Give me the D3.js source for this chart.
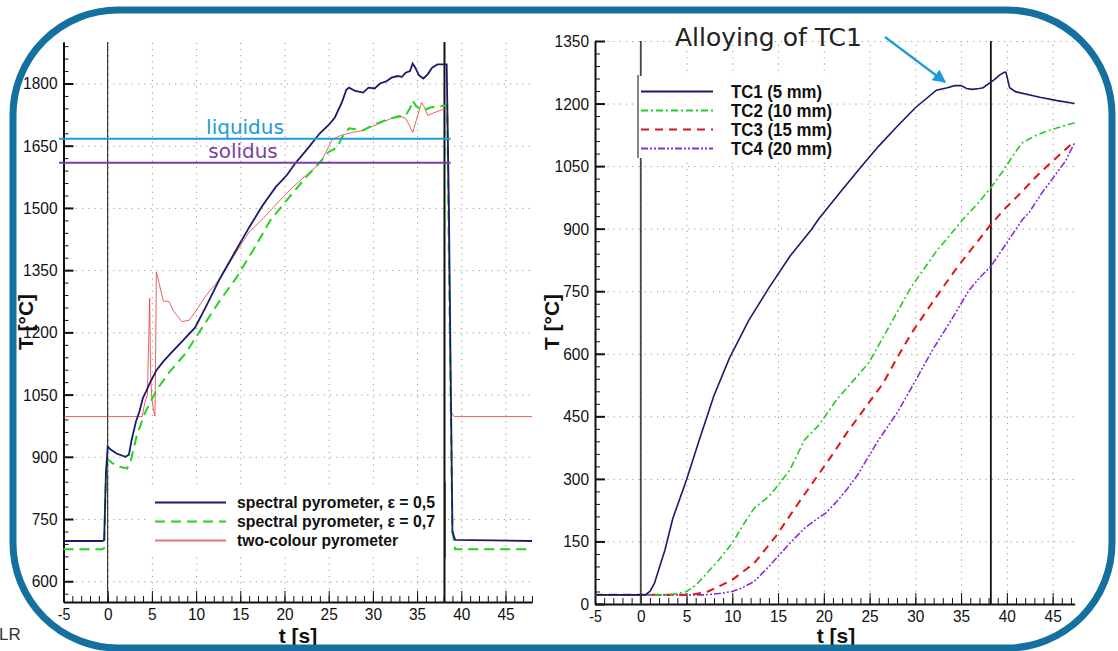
<!DOCTYPE html>
<html>
<head>
<meta charset="utf-8">
<script src="https://cdn.jsdelivr.net/npm/d3@7"></script>
<style>
  body { margin: 0; background: #fff; }
  svg text { font-family: "Liberation Sans", Arial, sans-serif; }
  .tick text { font-size: 17px; fill: #111; }
  .axis path, .axis line { stroke: #111; }
  .grid line { stroke: #999; stroke-dasharray: 1.2,5; }
  .grid path { display: none; }
</style>
</head>
<body>
<svg id="chart" width="1118" height="651"></svg>
<script>
// ---- left panel: pyrometer readings [t (s), T (°C)]
const pyroE05 = [[-5,697],[-0.6,697],[-0.4,700],[-0.2,860],[0,925],[0.3,918],[1,908],[2,900],[2.4,905],[2.7,940],[3.2,985],[3.6,1010],[4,1043],[4.4,1060],[4.75,1077],[5.5,1108],[6.3,1130],[7.1,1149],[8.5,1180],[9.9,1212],[11.3,1270],[12.7,1330],[14.3,1390],[16,1453],[17.5,1505],[19,1550],[20.3,1580],[21.2,1607],[22.5,1640],[24,1680],[25,1700],[25.7,1718],[26.5,1755],[27,1785],[27.3,1790],[28,1782],[28.9,1778],[29.5,1790],[30.2,1788],[30.8,1800],[31.5,1805],[32.1,1814],[32.8,1818],[33.3,1816],[33.7,1826],[34.2,1830],[34.5,1848],[34.8,1838],[35.2,1820],[35.7,1812],[36.2,1822],[36.7,1838],[37.3,1846],[38.35,1846],[38.6,1500],[38.8,1100],[39,720],[39.3,700],[48,697]];
const pyroE07 = [[-5,677],[-0.6,677],[-0.4,680],[-0.2,850],[0,894],[0.5,885],[1.3,876],[2.2,872],[2.6,890],[3.3,952],[4.3,1010],[5.5,1060],[7,1105],[8.8,1149],[10.7,1212],[12.7,1277],[14.5,1330],[16.5,1400],[18.4,1470],[20.5,1525],[22.4,1573],[24,1610],[25,1635],[26,1646],[26.5,1670],[27.3,1692],[28.9,1687],[30,1700],[31,1708],[32,1716],[33.7,1723],[34.2,1740],[34.5,1759],[34.9,1745],[35.7,1735],[36.5,1742],[38.4,1747],[38.7,1200],[39,720],[39.3,677],[48,677]];
const pyroTwoColour = [[-5,997],[3.9,997],[4.2,1030],[4.5,1050],[4.6,1150],[4.75,1282],[4.85,1100],[5.0,1040],[5.2,1010],[5.35,998],[5.45,1200],[5.5,1345],[5.8,1320],[6.3,1275],[6.9,1275],[7.5,1250],[8.4,1226],[9.2,1229],[9.9,1249],[11,1285],[12.7,1330],[14.3,1385],[16,1442],[17.6,1475],[19.2,1512],[20.8,1547],[22.4,1578],[24,1607],[24.7,1635],[25.4,1665],[26.4,1675],[27.7,1682],[28.9,1687],[30.9,1705],[32.9,1723],[33.7,1716],[34.1,1700],[34.5,1682],[34.9,1710],[35.5,1754],[35.9,1740],[36.2,1723],[37.2,1732],[38.4,1740],[38.6,1400],[38.8,1010],[39.2,997],[48,997]];
const liquidusT = 1667;
const solidusT = 1609;
const leftMarkers = [0, 38.1];
const leftLegend = ["spectral pyrometer, \u03b5 = 0,5", "spectral pyrometer, \u03b5 = 0,7", "two-colour pyrometer"];

// ---- right panel: thermocouples [t (s), T (°C)]
const tc1 = [[-5,22],[0.5,22],[1,30],[1.5,50],[2,85],[2.65,130],[3.5,205],[5,298],[6.4,394],[8,500],[9.7,590],[11.8,680],[14,758],[16.3,834],[18.65,898],[19.4,922],[21.7,985],[24.1,1049],[26,1098],[28,1145],[30,1190],[32.3,1232],[33.5,1238],[34.3,1243],[35,1243],[35.6,1236],[36.2,1234],[37,1236],[37.4,1238],[38.6,1257],[39.2,1268],[39.7,1275],[39.9,1275],[40.3,1238],[41,1228],[43.6,1215],[45.5,1207],[47.4,1200]];
const tc2 = [[-5,22],[3,22],[4,25],[5,30],[6,45],[6.9,66],[8.5,105],[10,146],[11.2,190],[12.4,230],[14,258],[15.2,290],[16.3,322],[17.9,394],[19.5,430],[21.4,490],[23.2,535],[24.9,578],[27,660],[29.6,762],[31,805],[32.3,846],[33.8,885],[35.2,922],[36.8,960],[38.25,998],[39.7,1042],[40.8,1080],[41.7,1106],[43,1122],[44.4,1134],[46,1145],[47.4,1154]];
const tc3 = [[-5,22],[5,22],[6,24],[7.35,30],[8.5,42],[10,58],[12.4,98],[14.75,162],[17.1,238],[19.4,310],[21,360],[22.5,410],[24.5,470],[26.5,530],[28,590],[29.6,650],[31.3,705],[33.1,762],[34.5,805],[35.8,842],[37,875],[38.25,910],[39.7,946],[41.7,990],[43.6,1034],[45.5,1072],[47.4,1110]];
const tc4 = [[-5,22],[7,22],[8.5,25],[10,30],[11,38],[12.4,54],[14,90],[16.3,146],[17.9,182],[19,200],[20.2,218],[21.3,243],[22.5,274],[23.7,310],[24.9,354],[26,394],[28,458],[30,535],[31.9,610],[33.9,680],[35.8,750],[37,782],[38.25,810],[39.5,850],[41.7,922],[42.4,938],[43.8,985],[45.2,1026],[46.4,1062],[47.4,1106]];
const rightMarkers = [0, 38.25];
const rightLegend = ["TC1 (5 mm)", "TC2 (10 mm)", "TC3 (15 mm)", "TC4 (20 mm)"];

const xTicks = [-5, 0, 5, 10, 15, 20, 25, 30, 35, 40, 45];

const svg = d3.select("#chart");
svg.append("rect").attr("width", 1118).attr("height", 651).attr("fill", "#fff");

// squeeze tick labels a little, the original font is a narrow one
function narrowLabels(a) {
    a.selectAll(".tick text")
        .attr("textLength", function () {
            let s = this.textContent;
            return s.replace("-", "").length * 8.6 + (s.indexOf("-") >= 0 ? 4 : 0);
        })
        .attr("lengthAdjust", "spacingAndGlyphs");
}

// draws grid, inward ticks and labels for one panel
function drawAxes(g, x, y, yTicks, yMinor) {
    let [x0, x1] = x.range();
    let [y0, y1] = y.range();

    g.append("g").attr("class", "grid")
        .attr("transform", "translate(0," + y0 + ")")
        .call(d3.axisBottom(x).tickValues(xTicks.filter(d => d > -5)).tickSize(-(y0 - y1)).tickFormat(""));
    g.append("g").attr("class", "grid")
        .attr("transform", "translate(" + x0 + ",0)")
        .call(d3.axisLeft(y).tickValues(yTicks).tickSize(-(x1 - x0)).tickFormat(""));

    let xMinor = d3.range(Math.ceil(x.domain()[0]), x.domain()[1] + 0.01, 1);
    g.append("g").attr("class", "axis")
        .attr("transform", "translate(0," + y0 + ")")
        .call(d3.axisBottom(x).tickValues(xMinor).tickSize(-6).tickSizeOuter(0).tickFormat(""));
    g.append("g").attr("class", "axis")
        .attr("transform", "translate(0," + y0 + ")")
        .call(d3.axisBottom(x).tickValues(xTicks).tickSize(-11).tickSizeOuter(0).tickPadding(6).tickFormat(d => String(d)))
        .call(a => a.select(".domain").attr("stroke-width", 2))
        .call(narrowLabels);

    g.append("g").attr("class", "axis")
        .attr("transform", "translate(" + x0 + ",0)")
        .call(d3.axisLeft(y).tickValues(yMinor).tickSize(-5).tickSizeOuter(0).tickFormat(""));
    g.append("g").attr("class", "axis")
        .attr("transform", "translate(" + x0 + ",0)")
        .call(d3.axisLeft(y).tickValues(yTicks).tickSize(-10).tickSizeOuter(0).tickPadding(6).tickFormat(d => String(d)))
        .call(a => a.select(".domain").attr("stroke-width", 2))
        .call(a => a.selectAll(".tick line").attr("stroke-width", 2))
        .call(narrowLabels);
}

function axisTitles(g, tx, ty, yCenter) {
    g.append("text").attr("x", tx).attr("y", 643).attr("text-anchor", "middle")
        .attr("font-size", 21).attr("font-weight", "bold").attr("fill", "#111").text("t [s]");
    g.append("text").attr("transform", "translate(" + ty + "," + yCenter + ") rotate(-90)")
        .attr("text-anchor", "middle").attr("font-size", 21).attr("font-weight", "bold").attr("fill", "#111")
        .text("T [\u00b0C]");
}

// ================= left panel =================
let xL = d3.scaleLinear().domain([-5, 48]).range([63.5, 532]);
let yL = d3.scaleLinear().domain([550, 1900]).range([602, 42]);
let gL = svg.append("g");

drawAxes(gL, xL, yL, d3.range(600, 1801, 150), d3.range(570, 1900, 30));

// legend box (covers grid)
gL.append("rect").attr("x", 150).attr("y", 488).attr("width", 295).attr("height", 66).attr("fill", "#fff");
gL.append("line").attr("x1", 445).attr("x2", 445).attr("y1", 482).attr("y2", 558).attr("stroke", "#222").attr("stroke-width", 1.2);

leftMarkers.forEach((t, i) => {
    gL.append("line").attr("x1", xL(t)).attr("x2", xL(t)).attr("y1", 42).attr("y2", 602)
        .attr("stroke", "#111").attr("stroke-width", i === 0 ? 1 : 2);
});

let lineL = d3.line().x(d => xL(d[0])).y(d => yL(d[1]));
gL.append("path").datum(pyroTwoColour).attr("d", lineL).attr("fill", "none")
    .attr("stroke", "#e83a3a").attr("stroke-width", 1).attr("opacity", 0.8);
gL.append("path").datum(pyroE07).attr("d", lineL).attr("fill", "none")
    .attr("stroke", "#22d422").attr("stroke-width", 2).attr("stroke-dasharray", "10,6");
gL.append("path").datum(pyroE05).attr("d", lineL).attr("fill", "none")
    .attr("stroke", "#1b1b6b").attr("stroke-width", 1.8);

// liquidus / solidus
gL.append("line").attr("x1", xL(-5.5)).attr("x2", xL(38.8)).attr("y1", yL(liquidusT)).attr("y2", yL(liquidusT))
    .attr("stroke", "#1e9ad8").attr("stroke-width", 2);
gL.append("line").attr("x1", xL(-5.5)).attr("x2", xL(38.8)).attr("y1", yL(solidusT)).attr("y2", yL(solidusT))
    .attr("stroke", "#7a3ea6").attr("stroke-width", 2);
gL.append("text").attr("x", 245).attr("y", 134).attr("text-anchor", "middle").attr("font-size", 20)
    .style("font-family", "'DejaVu Sans', sans-serif").attr("fill", "#1e9ad8").text("liquidus");
gL.append("text").attr("x", 243).attr("y", 158).attr("text-anchor", "middle").attr("font-size", 20)
    .style("font-family", "'DejaVu Sans', sans-serif").attr("fill", "#7a3ea6").text("solidus");

// legend
let legStyleL = [
    {stroke: "#1b1b6b", dash: null, w: 2, len: 198},
    {stroke: "#22d422", dash: "10,6", w: 2, len: 198},
    {stroke: "#e07878", dash: null, w: 2, len: 161}
];
leftLegend.forEach((name, i) => {
    let yy = 502.5 + i * 19;
    gL.append("line").attr("x1", 155).attr("x2", 226).attr("y1", yy).attr("y2", yy)
        .attr("stroke", legStyleL[i].stroke).attr("stroke-width", legStyleL[i].w)
        .attr("stroke-dasharray", legStyleL[i].dash);
    gL.append("text").attr("x", 237).attr("y", yy + 5.5).attr("font-size", 17).attr("font-weight", "bold")
        .attr("fill", "#111").attr("textLength", legStyleL[i].len).attr("lengthAdjust", "spacingAndGlyphs")
        .text(name);
});

axisTitles(gL, 298, 33, 322);

// ================= right panel =================
let xR = d3.scaleLinear().domain([-5, 47.4]).range([595, 1074.6]);
let yR = d3.scaleLinear().domain([0, 1350]).range([604, 41]);
let gR = svg.append("g");

drawAxes(gR, xR, yR, d3.range(0, 1351, 150), d3.range(0, 1351, 30));

rightMarkers.forEach((t, i) => {
    gR.append("line").attr("x1", xR(t)).attr("x2", xR(t)).attr("y1", 41).attr("y2", 604)
        .attr("stroke", i === 0 ? "#444" : "#111").attr("stroke-width", 1.8);
});

let lineR = d3.line().x(d => xR(d[0])).y(d => yR(d[1]));
let tcStyles = [
    {data: tc1, stroke: "#1b1b6b", dash: null, w: 1.6, len: 91},
    {data: tc2, stroke: "#22cc22", dash: "7,3,2,3", w: 1.6, len: 101},
    {data: tc3, stroke: "#dd1515", dash: "8,6", w: 2, len: 101},
    {data: tc4, stroke: "#8a2be2", dash: "7,2,2,2,2,2", w: 1.6, len: 101}
];
tcStyles.slice().reverse().forEach(s => {
    gR.append("path").datum(s.data).attr("d", lineR).attr("fill", "none")
        .attr("stroke", s.stroke).attr("stroke-width", s.w).attr("stroke-dasharray", s.dash);
});

// legend
gR.append("rect").attr("x", 638).attr("y", 76).attr("width", 188).attr("height", 82).attr("fill", "#fff");
gR.append("line").attr("x1", 638).attr("x2", 638).attr("y1", 75).attr("y2", 158).attr("stroke", "#333").attr("stroke-width", 1.2);
rightLegend.forEach((name, i) => {
    let yy = 91.5 + i * 19;
    gR.append("line").attr("x1", 641).attr("x2", 713).attr("y1", yy).attr("y2", yy)
        .attr("stroke", tcStyles[i].stroke).attr("stroke-width", 2)
        .attr("stroke-dasharray", tcStyles[i].dash);
    gR.append("text").attr("x", 731).attr("y", yy + 6.5).attr("font-size", 18).attr("font-weight", "bold")
        .attr("fill", "#111").attr("textLength", tcStyles[i].len).attr("lengthAdjust", "spacingAndGlyphs")
        .text(name);
});

// annotation
gR.append("text").attr("x", 675).attr("y", 46).attr("font-size", 25)
    .style("font-family", "'DejaVu Sans', sans-serif").attr("fill", "#222").text("Alloying of TC1");
svg.append("defs").append("marker").attr("id", "arr").attr("viewBox", "0 0 10 10")
    .attr("refX", 9).attr("refY", 5).attr("markerWidth", 6).attr("markerHeight", 6)
    .attr("markerUnits", "strokeWidth").attr("orient", "auto")
    .append("path").attr("d", "M0,0 L10,5 L0,10 z").attr("fill", "#1e9ad8");
gR.append("line").attr("x1", 885).attr("y1", 37).attr("x2", 945).attr("y2", 82)
    .attr("stroke", "#1e9ad8").attr("stroke-width", 2.2).attr("marker-end", "url(#arr)");

axisTitles(gR, 836, 559, 322);

// corner logo fragment
svg.append("text").attr("x", -1).attr("y", 640).attr("font-size", 17)
    .attr("fill", "#333").text("LR");

// rounded frame on top
svg.append("rect").attr("x", 13).attr("y", 10).attr("width", 1099).attr("height", 638)
    .attr("rx", 105).attr("ry", 105).attr("fill", "none")
    .attr("stroke", "#13709f").attr("stroke-width", 7);
</script>
</body>
</html>
